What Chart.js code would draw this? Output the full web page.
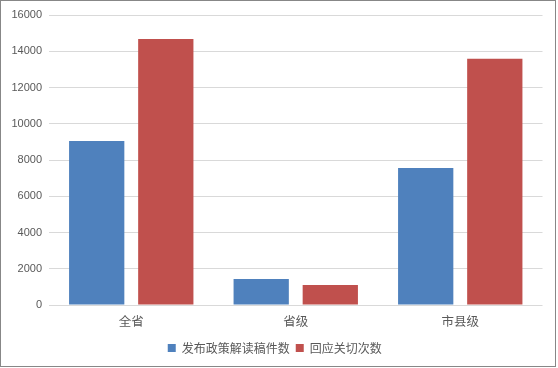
<!DOCTYPE html>
<html>
<head>
<meta charset="utf-8">
<script src="https://cdn.jsdelivr.net/npm/chart.js@4.4.0/dist/chart.umd.min.js"></script>
<style>
    body { margin: 0; background: #fff; }
    #box {
        width: 556px; height: 367px;
        box-sizing: border-box;
        border: 1px solid #878787;
        background: #fff;
    }
    canvas { display: block; }
</style>
</head>
<body>
<div id="box"><canvas id="chart" width="554" height="365"></canvas></div>
<script>
    var categories = ["全省", "省级", "市县级"];
    var seriesNames = ["发布政策解读稿件数", "回应关切次数"];
    var articles = [9050, 1440, 7560];
    var responses = [14680, 1100, 13580];
    var yTicks = [0, 2000, 4000, 6000, 8000, 10000, 12000, 14000, 16000];

    var textColor = "#595959";
    var cjkFont = "'Noto Sans CJK SC', sans-serif";

    var ctx = document.getElementById("chart").getContext("2d");
    var chart = new Chart(ctx, {
        type: "bar",
        data: {
            labels: categories,
            datasets: [{
                label: seriesNames[0],
                data: articles,
                backgroundColor: "#4f81bd",
                borderWidth: 0
            }, {
                label: seriesNames[1],
                data: responses,
                backgroundColor: "#c0504d",
                borderWidth: 0
            }]
        },
        options: {
            responsive: false,
            animation: false,
            devicePixelRatio: 1,
            layout: {
                // left + y axis width = 48, keeps legend centred on the canvas
                padding: { left: 6, right: 12.5, top: 14, bottom: 2 }
            },
            datasets: {
                bar: { categoryPercentage: 0.84, barPercentage: 0.8 }
            },
            plugins: {
                tooltip: { enabled: false },
                legend: {
                    position: "bottom",
                    labels: {
                        boxWidth: 8,
                        boxHeight: 8,
                        padding: 6,
                        color: textColor,
                        font: { family: cjkFont, size: 12 }
                    }
                }
            },
            scales: {
                x: {
                    grid: { display: false, drawTicks: false, tickLength: 0 },
                    border: { display: false },
                    ticks: {
                        color: textColor,
                        padding: 9,
                        font: { family: cjkFont, size: 12.5 }
                    },
                    afterFit: function (scale) { scale.height = 31; }
                },
                y: {
                    min: 0,
                    max: 16000,
                    afterBuildTicks: function (scale) {
                        scale.ticks = yTicks.map(function (v) { return { value: v }; });
                    },
                    grid: { color: "#d9d9d9", lineWidth: 1, drawTicks: false },
                    border: { display: false },
                    ticks: {
                        color: textColor,
                        padding: 7,
                        font: { family: "'Liberation Sans', sans-serif", size: 11 },
                        callback: function (value) { return String(value); }
                    },
                    afterFit: function (scale) { scale.width = 42; }
                }
            }
        }
    });
</script>
</body>
</html>
